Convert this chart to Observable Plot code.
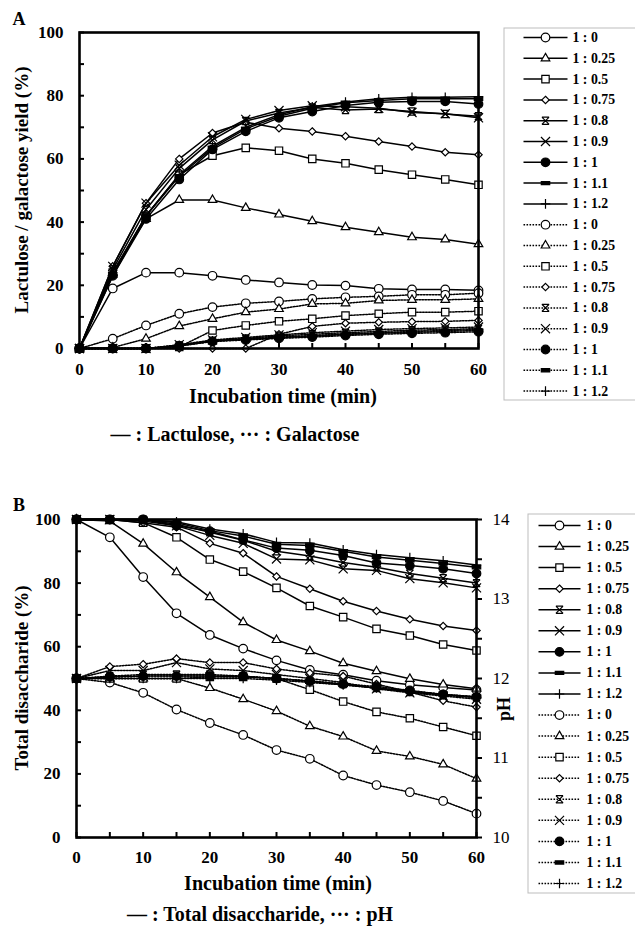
<!DOCTYPE html>
<html><head><meta charset="utf-8">
<script src="https://cdn.jsdelivr.net/npm/d3@7"></script>
<script src="https://cdn.jsdelivr.net/npm/@observablehq/plot@0.6"></script>
<style>
body{margin:0;background:#fff;}
#root{position:relative;width:635px;height:933px;overflow:hidden;font-family:"Liberation Serif","Times New Roman",serif;font-weight:bold;color:#000;}
.lab{position:absolute;white-space:nowrap;line-height:1;transform:translate(-50%,-50%);}
.rot{transform:translate(-50%,-50%) rotate(-90deg);}
</style></head><body><div id="root"></div>
<script>
// ---------- data ----------
const times = [0,5,10,15,20,25,30,35,40,45,50,55,60];
const ratioLabels = ["1 : 0","1 : 0.25","1 : 0.5","1 : 0.75","1 : 0.8","1 : 0.9","1 : 1","1 : 1.1","1 : 1.2"];
const xTickLabels = [0,10,20,30,40,50,60];
const yTickLabels = [0,20,40,60,80,100];
const pHTickLabels = [10,11,12,13,14];

// Panel A: lactulose yield (%) — solid lines
const lactulose = [
  [0,19,24,24,23,21.7,20.9,20.1,19.9,18.9,18.7,18.7,18.4],
  [0,24,41,47,47,44.5,42.4,40.3,38.4,36.8,35.2,34.5,33],
  [0,24,42,55,61,63.5,62.6,60,58.6,56.6,55,53.5,51.8],
  [0,26,46,60,68.2,71.6,69.7,68.7,67.2,65.5,63.9,62.1,61.3],
  [0,25,44,57,66,72,74.5,76.3,75.5,75.8,75,74.2,73.5],
  [0,26,46,58,67,72.5,75.3,76.8,76.5,76,74.7,74.3,73],
  [0,23,41,53.5,63,68.7,73,75,76.9,77.9,78.2,78.2,77.4],
  [0,23,42,54.5,63.5,69.5,73.5,76,77.8,78.5,79,79,79],
  [0,24,42,55,64,70,74,76.5,78,79,79.5,79.5,79.7]
];
// Panel A: galactose yield (%) — dotted lines
const galactose = [
  [0,3.1,7.3,11,13.1,14.3,14.9,15.7,16.2,16.5,17,17,17.5],
  [0,0.3,3.1,7.1,9.4,11.5,12.5,14.1,14.3,15.2,15.4,15.4,15.7],
  [0,0,0,0.5,5.7,7.3,8.6,9.4,10.4,11,11.5,11.5,11.8],
  [0,0,0,0,0,0,4.5,7,8,8.3,8.5,8.6,8.9],
  [0,0,0,1,2.5,3.2,4,4.5,5,5.4,5.8,6,6.3],
  [0,0,0,1.2,2.7,3.5,4.3,5,5.5,6,6.3,6.5,6.8],
  [0,0,0,0.8,2.2,2.7,3.2,3.6,4.1,4.5,4.8,5,5.3],
  [0,0,0,0.8,2.3,2.9,3.4,3.9,4.4,4.8,5.1,5.4,5.7],
  [0,0,0,1,2.4,3,3.6,4.1,4.6,5,5.4,5.7,6]
];
// Panel B: total disaccharide (%) — solid lines
const disaccharide = [
  [100,94.4,81.9,70.5,63.7,59.4,55.7,52.7,51.2,49.3,48,47.2,46.4],
  [100,99.5,92.4,83.4,75.6,67.7,62.1,58.6,54.8,52.3,49.9,48.1,46.8],
  [100,100,99,94.4,87.4,83.6,78.5,72.8,69.3,65.6,63.5,60.7,58.8],
  [100,100,99,97.6,92.5,89.4,82.1,78.2,74.3,71.2,68.6,66.5,65.1],
  [100,100,100,98.5,96,93.5,90,88.5,86.5,85,83,81.5,80],
  [100,100,99.5,98,95,92.5,87.6,87.3,84.5,84,81.4,80.1,78.5],
  [100,100,100,98,96.3,93.6,91,90.3,88.7,86.3,85.5,84.5,83],
  [100,100,100,99,96.5,94.8,92.2,91.8,90,88.2,87.2,86.2,85],
  [100,100,100,99.3,97,95.5,92.8,92.6,90.5,89,88,87,85.7]
];
// Panel B: pH — dotted lines (right axis 10–14)
const pH = [
  [12.0,11.95,11.82,11.61,11.44,11.29,11.1,10.99,10.78,10.66,10.57,10.46,10.3],
  [12.0,12.0,12.0,12.0,11.88,11.74,11.59,11.4,11.27,11.09,11.02,10.92,10.74],
  [12.0,12.0,12.0,12.0,12.02,12.02,12.0,11.86,11.71,11.58,11.5,11.39,11.28],
  [12.0,12.15,12.18,12.25,12.2,12.2,12.12,12.07,12.03,11.93,11.83,11.72,11.64],
  [12.0,12.03,12.05,12.05,12.05,12.03,12.0,11.97,11.93,11.88,11.83,11.79,11.76],
  [12.0,12.1,12.1,12.2,12.12,12.1,12.05,12.0,11.95,11.87,11.82,11.78,11.74],
  [12.0,12.02,12.03,12.03,12.03,12.03,12.0,11.97,11.93,11.9,11.85,11.8,11.77],
  [12.0,12.02,12.03,12.03,12.03,12.02,12.0,11.96,11.92,11.88,11.84,11.8,11.77],
  [12.0,12.0,12.0,12.0,12.0,12.0,11.98,11.95,11.92,11.88,11.84,11.8,11.76]
];
const pHMin = 10, pHMax = 14;

// ---------- styles ----------
const hourglass = {draw(ctx, size){const r = Math.sqrt(size/Math.PI)*0.95;
  ctx.moveTo(-r,-r); ctx.lineTo(r,r); ctx.moveTo(r,-r); ctx.lineTo(-r,r);
  ctx.moveTo(-r,-r); ctx.lineTo(r,-r); ctx.moveTo(-r,r); ctx.lineTo(r,r);}};
const dash = {draw(ctx, size){const r = Math.sqrt(size/Math.PI);
  ctx.rect(-r, -r*0.38, 2*r, r*0.76);}};
const syms = ["circle","triangle2","square2","diamond2",hourglass,"times","circle",dash,"plus"];
const fills = ["white","white","white","white","none","none","black","black","none"];
const radii = [4.3,4.1,4.7,3.3,3.8,4.2,4.3,4.2,3.2];
const FONT = '"Liberation Serif","Times New Roman",serif';

function seriesMarks(rows, dotted, toY = v => v) {
  const marks = [];
  rows.forEach((vals, i) => {
    const data = times.map((t, k) => ({t, v: toY(vals[k])}));
    marks.push(Plot.line(data, {x: "t", y: "v", stroke: "black", strokeWidth: 1.5,
      ...(dotted ? {strokeDasharray: "1.6 1.4"} : {})}));
    marks.push(Plot.dot(data, {x: "t", y: "v", symbol: syms[i], r: radii[i], stroke: "black",
      strokeWidth: 1.2, fill: fills[i]}));
  });
  return marks;
}

const root = document.getElementById("root");
function place(node, left, top) { node.style.position = "absolute"; node.style.left = left + "px"; node.style.top = top + "px"; root.appendChild(node); }
function label(text, x, y, size, rot = false, weight = "bold") {
  const d = document.createElement("div"); d.className = "lab" + (rot ? " rot" : "");
  d.textContent = text; d.style.left = x + "px"; d.style.top = y + "px"; d.style.fontSize = size + "px"; d.style.fontWeight = weight;
  root.appendChild(d);
}
const minorX = d3.range(0, 61, 5);
const minorY = d3.range(0, 101, 10);
const baseStyle = {fontFamily: FONT, fontSize: "17px", fontWeight: "bold", color: "black", background: "transparent", overflow: "visible"};

// ---------- Panel A ----------
const chartA = Plot.plot({
  width: 500, height: 420, marginLeft: 79, marginRight: 22, marginTop: 32, marginBottom: 72,
  x: {domain: [0, 60]}, y: {domain: [0, 100]},
  style: baseStyle,
  marks: [
    Plot.axisX(xTickLabels, {tickSize: 0, tickPadding: 14, label: null}),
    Plot.axisX(minorX, {tickSize: -5, tickFormat: () => "", label: null, strokeWidth: 2}),
    Plot.axisY(yTickLabels, {tickSize: 0, tickPadding: 16, label: null}),
    Plot.axisY(minorY, {tickSize: -5, tickFormat: () => "", label: null, strokeWidth: 2}),
    ...seriesMarks(lactulose, false),
    ...seriesMarks(galactose, true),
    Plot.frame({stroke: "black", strokeWidth: 2.6})
  ]
});
place(chartA, 0, 0);

// ---------- Panel B ----------
const toLeft = p => (p - pHMin) / (pHMax - pHMin) * 100;
const chartB = Plot.plot({
  width: 530, height: 420, marginLeft: 76, marginRight: 54, marginTop: 49, marginBottom: 53,
  x: {domain: [0, 60]}, y: {domain: [0, 100]},
  style: baseStyle,
  marks: [
    Plot.axisX(xTickLabels, {tickSize: 0, tickPadding: 13, label: null}),
    Plot.axisX(minorX, {tickSize: -5, tickFormat: () => "", label: null, strokeWidth: 2}),
    Plot.axisY(yTickLabels, {tickSize: 0, tickPadding: 16, label: null}),
    Plot.axisY(minorY, {tickSize: -5, tickFormat: () => "", label: null, strokeWidth: 2}),
    Plot.axisY(pHTickLabels.map(toLeft), {anchor: "right", tickSize: 0, tickPadding: 16, label: null,
      tickFormat: d => d3.format("d")(pHMin + d / 100 * (pHMax - pHMin)), fontWeight: "normal"}),
    Plot.axisY(d3.range(pHMin, pHMax + 0.01, 0.5).map(toLeft), {anchor: "right", tickSize: 5, tickFormat: () => "", label: null, strokeWidth: 2}),
    ...seriesMarks(disaccharide, false),
    ...seriesMarks(pH, true, toLeft),
    Plot.frame({stroke: "black", strokeWidth: 2.6})
  ]
});
place(chartB, 0, 470);

// ---------- Legends ----------
function legend(width, height, y0, step, lx1, lx2, mx, tx, fs) {
  const rows = [];
  [false, true].forEach((dotted, g) => ratioLabels.forEach((lab, i) =>
    rows.push({k: g * 9 + i, i, dotted, lab, yy: y0 + (g * 9 + i) * step})));
  const marks = [
    Plot.frame({stroke: "#bdbdbd", strokeWidth: 1, inset: 0.5}),
    Plot.link(rows.filter(r => !r.dotted), {x1: lx1, x2: lx2, y1: "yy", y2: "yy", stroke: "black", strokeWidth: 1.5}),
    Plot.link(rows.filter(r => r.dotted), {x1: lx1, x2: lx2, y1: "yy", y2: "yy", stroke: "black", strokeWidth: 1.5, strokeDasharray: "1.6 1.4"})
  ];
  syms.forEach((s, i) => marks.push(Plot.dot(rows.filter(r => r.i === i), {x: mx, y: "yy", symbol: s, r: radii[i],
    stroke: "black", strokeWidth: 1.2, fill: fills[i]})));
  marks.push(Plot.text(rows, {x: tx, y: "yy", text: "lab", textAnchor: "start", fontSize: fs, fontWeight: "bold", fill: "black"}));
  return Plot.plot({width, height, margin: 0, x: {type: "identity", axis: null}, y: {type: "identity", axis: null},
    style: {fontFamily: FONT, background: "white", overflow: "visible"}, marks});
}
place(legend(150, 373, 10, 20.8, 20, 64, 42, 69, 13.8), 503, 27);
place(legend(130, 380, 12, 21.06, 11, 53, 32, 59, 13.8), 527, 513);

// ---------- titles ----------
label("A", 19, 19, 18);
label("Lactulose / galactose yield (%)", 21, 190, 19, true);
label("Incubation time (min)", 283, 396, 20);
label("— : Lactulose,  ··· : Galactose", 235, 434, 20);
label("B", 19, 505, 18);
label("Total disaccharide (%)", 21, 678, 19, true);
label("pH", 504, 709, 18, true);
label("Incubation time (min)", 278, 883, 20);
label("— : Total disaccharide,  ··· : pH", 260, 914, 20);
</script></body></html>
